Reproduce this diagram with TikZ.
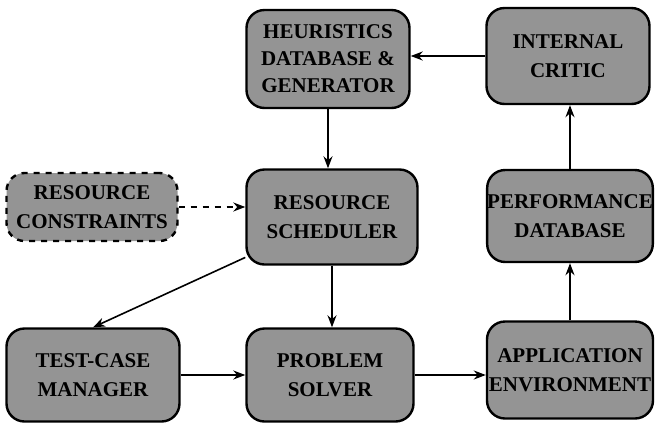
\documentclass[tikz,border=0pt]{standalone}
\usepackage{fontspec}
\setmainfont{Liberation Serif}
\usetikzlibrary{arrows.meta}
\begin{document}
\begin{tikzpicture}[x=0.5pt,y=-0.5pt]
        \tikzstyle{block} = [rectangle, rounded corners=9pt, draw=black, line width=1.2pt, fill=black!42, text centered, align=center, font=\bfseries\fontsize{10.5}{14.5}\selectfont, inner sep=0pt]
        \tikzstyle{arrow} = [line width=0.8pt,->,>={Stealth[length=6pt,width=4.5pt]}]
        \useasboundingbox (0,0) rectangle (655,430);

                \node (heur) [block, minimum width=81.5pt, minimum height=49pt, font=\bfseries\fontsize{10.5}{13.5}\selectfont] at (328,59) {HEURISTICS\\DATABASE \&\\GENERATOR};
                \node (critic) [block, minimum width=81.5pt, minimum height=48pt] at (568,56) {INTERNAL\\CRITIC};
                \node (cons) [block, dashed, minimum width=85.5pt, minimum height=34pt] at (92,207) {RESOURCE\\CONSTRAINTS};
                \node (sched) [block, minimum width=85.5pt, minimum height=47.5pt] at (332,217) {RESOURCE\\SCHEDULER};
                \node (perf) [block, minimum width=82.5pt, minimum height=46pt] at (570,216) {PERFORMANCE\\DATABASE};
                \node (test) [block, minimum width=86.5pt, minimum height=46.5pt] at (93,375) {TEST-CASE\\MANAGER};
                \node (solver) [block, minimum width=83.5pt, minimum height=46.5pt] at (330,375) {PROBLEM\\SOLVER};
                \node (env) [block, minimum width=83pt, minimum height=48.5pt] at (570,370) {APPLICATION\\ENVIRONMENT};

                \draw[arrow] (critic.west) -- (critic.west -| heur.east);
                \draw[arrow] (heur.south) -- (heur.south |- sched.north);
                \draw[arrow, dashed] (cons.east) -- (cons.east -| sched.west);
                \draw[arrow] (sched.205) -- (test.north);
                \draw[arrow] (sched.south) -- (sched.south |- solver.north);
                \draw[arrow] (test.east) -- (test.east -| solver.west);
                \draw[arrow] (solver.east) -- (solver.east -| env.west);
                \draw[arrow] (env.north) -- (env.north |- perf.south);
                \draw[arrow] (perf.north) -- (perf.north |- critic.south);
    \end{tikzpicture}
\end{document}
